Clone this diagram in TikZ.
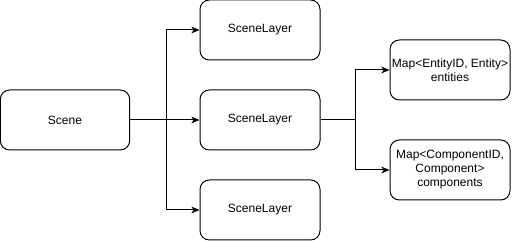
\documentclass[tikz,border=0pt]{standalone}
\usepackage{fontspec}
\setmainfont{Liberation Sans}
\usetikzlibrary{arrows.meta}

\begin{document}
\begin{tikzpicture}[x=0.75pt, y=-0.75pt, line width=0.75pt,
        every node/.style={font=\fontsize{9pt}{10.5pt}\selectfont},
        layerbox/.style={draw, rectangle, rounded corners=7pt, fill=white, minimum width=90pt, minimum height=45pt, align=center, inner sep=1pt},
        link/.style={-{Stealth[length=6pt, width=5pt, inset=1.5pt]}}]
        \useasboundingbox (0,0) rectangle (512,242);

        % Scene and its layers
        \node[layerbox, minimum width=97pt] (scene) at (65,120) {Scene};

        \node[layerbox] (layertop) at (260,30) {SceneLayer};
        \node[layerbox] (layermid) at (260,120) {SceneLayer};
        \node[layerbox] (layerbot) at (260,210) {SceneLayer};

        % Maps held by a layer
        \node[layerbox] (entities) at (450,70) {Map<EntityID, Entity>\\entities};
        \node[layerbox] (components) at (450,170) {Map<ComponentID,\\Component>\\components};

        % Branch points
        \coordinate (scenesplit) at (166,120);
        \coordinate (layersplit) at (355,120);

        % Arrows from scene to layers
        \draw (scene) -- (scenesplit);
        \draw[link] (scenesplit) |- (layertop);
        \draw[link] (scenesplit) -- (layermid);
        \draw[link] (scenesplit) |- (layerbot);

        % Arrows from layer to maps
        \draw (layermid) -- (layersplit);
        \draw[link] (layersplit) |- (entities);
        \draw[link] (layersplit) |- (components);
    \end{tikzpicture}
\end{document}
